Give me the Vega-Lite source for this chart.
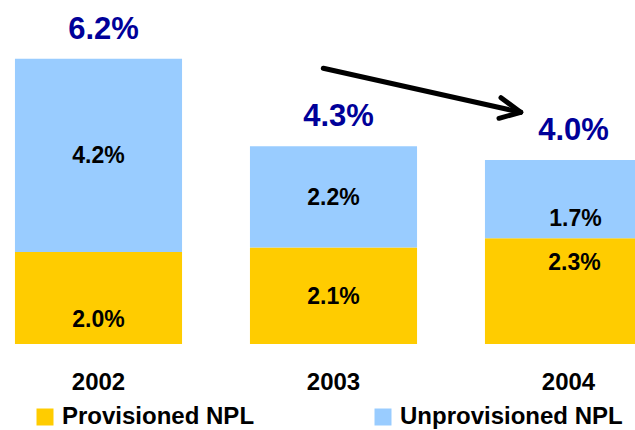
{
  "$schema": "https://vega.github.io/schema/vega-lite/v6.json",
  "width": 635,
  "height": 344,
  "autosize": {"type": "none"},
  "padding": {"left": 0, "top": 0, "right": 0, "bottom": 86},
  "background": "white",
  "config": {
    "view": {"stroke": null},
    "font": "Liberation Sans",
    "text": {"font": "Liberation Sans", "fontWeight": "bold"}
  },
  "datasets": {
    "npl": [
      {"year": "2002", "series": "Provisioned NPL", "value": 0.020},
      {"year": "2002", "series": "Unprovisioned NPL", "value": 0.042},
      {"year": "2003", "series": "Provisioned NPL", "value": 0.021},
      {"year": "2003", "series": "Unprovisioned NPL", "value": 0.022},
      {"year": "2004", "series": "Provisioned NPL", "value": 0.023},
      {"year": "2004", "series": "Unprovisioned NPL", "value": 0.017}
    ],
    "arrow": [
      {"part": "shaft", "ax": 2002.9566, "ay": 0.05993, "bx": 2003.7966, "by": 0.05037},
      {"part": "head upper", "ax": 2003.7128, "ay": 0.05354, "bx": 2003.7966, "by": 0.05037},
      {"part": "head lower", "ax": 2003.7043, "ay": 0.04906, "bx": 2003.7966, "by": 0.05037}
    ]
  },
  "layer": [
    {
      "data": {"name": "npl"},
      "encoding": {
        "x": {
          "field": "year",
          "type": "nominal",
          "scale": {"range": [-19, 686], "paddingInner": 0.289, "paddingOuter": 0.1445},
          "axis": {
            "title": null,
            "labelAngle": 0,
            "domain": false,
            "ticks": false,
            "tickSize": 0,
            "labelPadding": 45,
            "labelBaseline": "alphabetic",
            "labelFont": "Liberation Sans",
            "labelFontWeight": "bold",
            "labelFontSize": 24,
            "labelColor": "black",
            "grid": false
          }
        }
      },
      "layer": [
        {
          "mark": {"type": "bar", "clip": true},
          "encoding": {
            "y": {"field": "value", "type": "quantitative", "stack": "zero", "scale": {"domain": [0, 0.07478], "nice": false}, "axis": null},
            "color": {
              "field": "series",
              "type": "nominal",
              "scale": {"domain": ["Provisioned NPL", "Unprovisioned NPL"], "range": ["#FFCC00", "#99CCFF"]},
              "legend": {
                "title": null,
                "orient": "none",
                "legendX": 33,
                "legendY": 405,
                "direction": "horizontal",
                "symbolType": "square",
                "symbolSize": 289,
                "symbolStrokeWidth": 0,
                "labelFont": "Liberation Sans",
                "labelFontWeight": "bold",
                "labelFontSize": 24,
                "labelColor": "black",
                "labelOffset": 5,
                "labelLimit": 400,
                "columnPadding": 116,
                "padding": 0
              }
            },
            "order": {"field": "series", "sort": "ascending"}
          }
        },
        {
          "transform": [
            {"stack": "value", "groupby": ["year"], "sort": [{"field": "series", "order": "ascending"}], "as": ["v0", "v1"]},
            {"calculate": "(datum.v0 + datum.v1) / 2", "as": "mid"}
          ],
          "layer": [
            {
              "transform": [{"filter": "datum.year === '2003' || (datum.year === '2002' && datum.series === 'Unprovisioned NPL')"}],
              "mark": {"type": "text", "fontSize": 23, "baseline": "alphabetic", "dy": 8, "color": "black"},
              "encoding": {
                "y": {"field": "mid", "type": "quantitative", "scale": {"domain": [0, 0.07478], "nice": false}, "axis": null},
                "text": {"field": "value", "type": "quantitative", "format": ".1%"}
              }
            },
            {
              "transform": [{"filter": "datum.year === '2002' && datum.series === 'Provisioned NPL'"}],
              "mark": {"type": "text", "fontSize": 23, "baseline": "alphabetic", "dy": -17, "color": "black"},
              "encoding": {
                "y": {"field": "v0", "type": "quantitative", "scale": {"domain": [0, 0.07478], "nice": false}, "axis": null},
                "text": {"field": "value", "type": "quantitative", "format": ".1%"}
              }
            },
            {
              "transform": [{"filter": "datum.year === '2004' && datum.series === 'Unprovisioned NPL'"}],
              "mark": {"type": "text", "fontSize": 23, "baseline": "alphabetic", "dy": -12, "dx": 7, "color": "black"},
              "encoding": {
                "y": {"field": "v0", "type": "quantitative", "scale": {"domain": [0, 0.07478], "nice": false}, "axis": null},
                "text": {"field": "value", "type": "quantitative", "format": ".1%"}
              }
            },
            {
              "transform": [{"filter": "datum.year === '2004' && datum.series === 'Provisioned NPL'"}],
              "mark": {"type": "text", "fontSize": 23, "baseline": "alphabetic", "dy": 32, "dx": 6, "color": "black"},
              "encoding": {
                "y": {"field": "v1", "type": "quantitative", "scale": {"domain": [0, 0.07478], "nice": false}, "axis": null},
                "text": {"field": "value", "type": "quantitative", "format": ".1%"}
              }
            }
          ]
        },
        {
          "transform": [{"aggregate": [{"op": "sum", "field": "value", "as": "total"}], "groupby": ["year"]}],
          "mark": {"type": "text", "fontSize": 31, "baseline": "alphabetic", "dy": -20, "dx": 5, "color": "#000099"},
          "encoding": {
            "y": {"field": "total", "type": "quantitative", "scale": {"domain": [0, 0.07478], "nice": false}, "axis": null},
            "text": {"field": "total", "type": "quantitative", "format": ".1%"}
          }
        }
      ]
    },
    {
      "data": {"name": "arrow"},
      "mark": {"type": "rule", "strokeWidth": 5, "strokeCap": "round", "color": "black"},
      "encoding": {
        "x": {"field": "ax", "type": "quantitative", "scale": {"domain": [2001.5809, 2004.283], "nice": false, "zero": false}, "axis": null},
        "x2": {"field": "bx"},
        "y": {"field": "ay", "type": "quantitative", "scale": {"domain": [0, 0.07478], "nice": false}, "axis": null},
        "y2": {"field": "by"},
        "detail": {"field": "part"}
      }
    }
  ],
  "resolve": {"scale": {"x": "independent"}, "axis": {"x": "independent"}}
}
